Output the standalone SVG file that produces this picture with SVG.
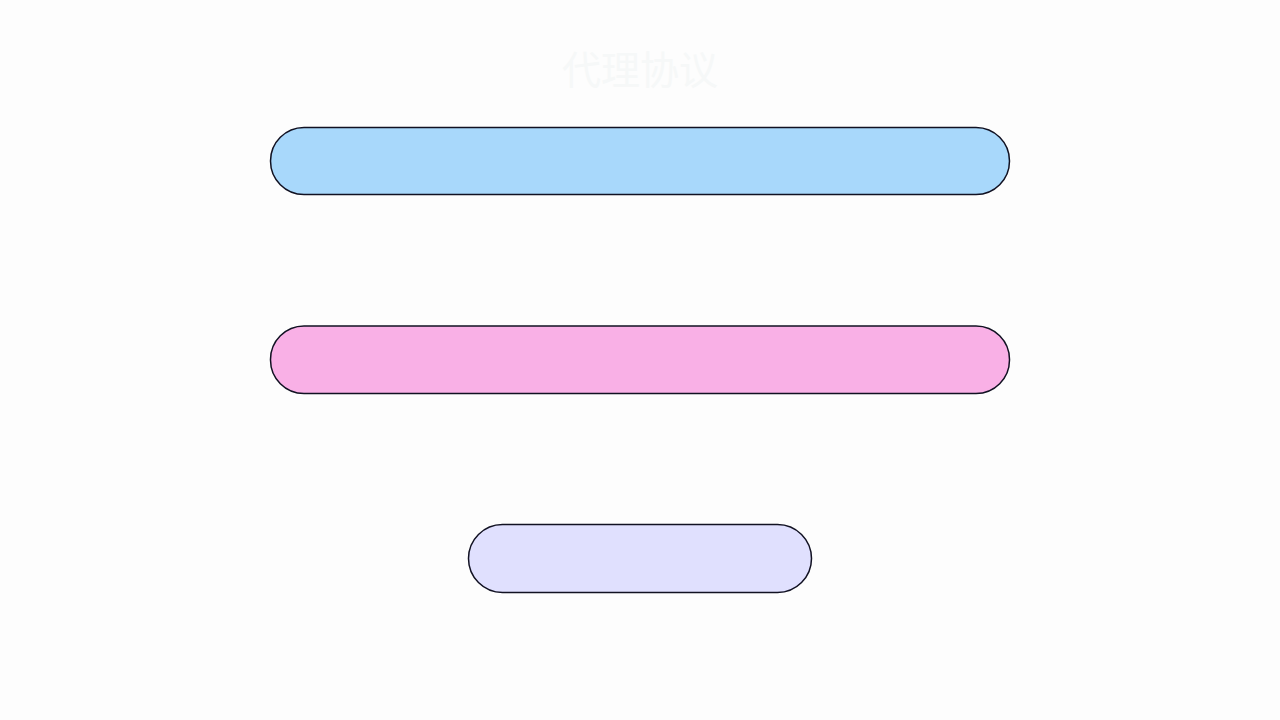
<svg xmlns="http://www.w3.org/2000/svg" width="1280" height="720" viewBox="0 0 1280 720">
<style>
.node{stroke:#111122;stroke-width:1.5}
.title{font-family:"Noto Sans CJK SC","Noto Sans",sans-serif;font-size:39px;fill:#f6f8f8;text-anchor:middle}
</style>
<rect width="1280" height="720" fill="#fdfdfd"/>
<text class="title" x="640" y="84">代理协议</text>
<g id="connectors"></g>
<g id="node1"><rect class="node" x="270.5" y="127.5" width="739" height="67" rx="33.5" fill="#a8d8fb"/></g>
<g id="node2"><rect class="node" x="270.5" y="326" width="739" height="67.5" rx="33.5" fill="#f9b0e6"/></g>
<g id="node3"><rect class="node" x="468.5" y="524.5" width="343" height="68" rx="34" fill="#e0e0fe"/></g>
</svg>
